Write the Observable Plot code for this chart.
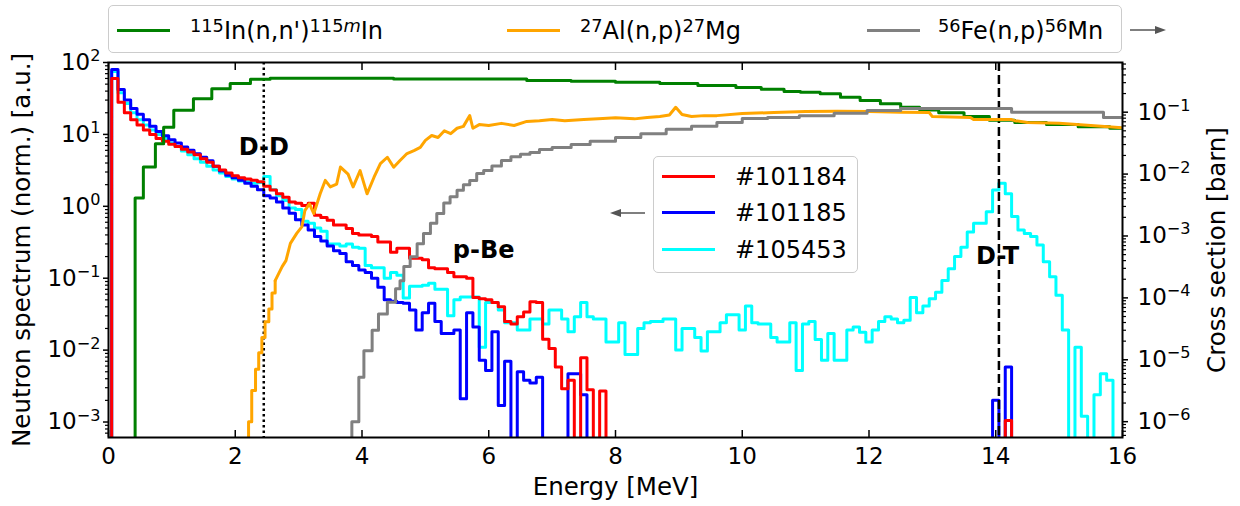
<!DOCTYPE html>
<html>
<head>
<meta charset="utf-8">
<script src="https://cdn.jsdelivr.net/npm/d3@7"></script>
<script src="https://cdn.jsdelivr.net/npm/@observablehq/plot@0.6"></script>
<style>
  body { margin: 0; background: #fff; }
  #wrap { position: relative; width: 1240px; height: 506px; overflow: hidden; font-family: "DejaVu Sans", sans-serif; color: #000; background: #fff; }
  #chart { position: absolute; left: 0; top: 0; }
  #head, #overlay { position: absolute; left: 0; top: 0; width: 0; height: 0; }
  .box { position: absolute; box-sizing: border-box; border: 1.5px solid #cccccc; border-radius: 5px; background: rgba(255,255,255,0.8); }
  .swatch { position: absolute; height: 3px; }
  .entry { position: absolute; font-size: 24px; line-height: 24px; white-space: nowrap; }
  .entry sup { font-size: 0.74em; line-height: 0; vertical-align: baseline; position: relative; top: -0.42em; }
  .arrow { position: absolute; overflow: visible; }
  #chart svg { display: block; }
</style>
</head>
<body>
<div id="wrap">
  <div id="chart"></div>
  <div id="head"></div>
  <div id="overlay"></div>
</div>
<script>
// Neutron spectra: 0.1 MeV bins, values at the bin centres (0.0 ... 16.0 MeV)
const energy = d3.range(0, 161).map(i => i / 10);

const shot101184 = [
  0, 60, 28, 20, 16, 13.5, 11.5, 10, 8.8, 8.0,
  7.3, 6.8, 6.2, 5.7, 5.2, 4.6, 4.1, 3.6, 3.2, 2.9,
  2.65, 2.5, 2.4, 2.3, 2.2, 1.9, 1.68, 1.5, 1.34, 1.15,
  1.1, 1.03, 1.1, 0.75, 0.7, 0.64, 0.55, 0.55, 0.49, 0.42,
  0.4, 0.4, 0.38, 0.32, 0.32, 0.23, 0.26, 0.26, 0.19, 0.19,
  0.18, 0.14, 0.135, 0.135, 0.12, 0.105, 0.105, 0.1, 0.054, 0.052,
  0.05, 0.046, 0.04, 0.025, 0.023, 0.029, 0.034, 0.047, 0.046, 0.0142,
  0.0105, 0.0058, 0.0029, 0.0038, 0, 0.0078, 0.0028, 0, 0.0027, 0,
  0, 0, 0, 0, 0, 0, 0, 0, 0, 0,
  0, 0, 0, 0, 0, 0, 0, 0, 0, 0,
  0, 0, 0, 0, 0, 0, 0, 0, 0, 0,
  0, 0, 0, 0, 0, 0, 0, 0, 0, 0,
  0, 0, 0, 0, 0, 0, 0, 0, 0, 0,
  0, 0, 0, 0, 0, 0, 0, 0, 0, 0,
  0, 0, 0.00105, 0, 0, 0, 0, 0, 0, 0,
  0, 0, 0, 0, 0, 0, 0, 0, 0, 0,
  0
];

const shot101185 = [
  0, 80, 42, 30, 23, 19, 16, 13, 11, 9.6,
  8.4, 7.6, 6.7, 6.0, 5.4, 4.8, 4.3, 3.6, 3.1, 2.7,
  2.5, 2.3, 2.1, 1.9, 1.7, 1.4, 1.3, 1.15, 0.95, 0.8,
  0.65, 0.55, 0.47, 0.38, 0.33, 0.28, 0.24, 0.22, 0.17, 0.15,
  0.13, 0.12, 0.1, 0.075, 0.05, 0.048, 0.046, 0.045, 0.036, 0.019,
  0.033, 0.045, 0.025, 0.017, 0.017, 0.019, 0.0021, 0.033, 0.021, 0.0072,
  0.0052, 0.018, 0.0017, 0.007, 0, 0.005, 0.0038, 0.0035, 0.0042, 0,
  0, 0, 0, 0.0047, 0.0047, 0.0024, 0, 0, 0, 0,
  0, 0, 0, 0, 0, 0, 0, 0, 0, 0,
  0, 0, 0, 0, 0, 0, 0, 0, 0, 0,
  0, 0, 0, 0, 0, 0, 0, 0, 0, 0,
  0, 0, 0, 0, 0, 0, 0, 0, 0, 0,
  0, 0, 0, 0, 0, 0, 0, 0, 0, 0,
  0, 0, 0, 0, 0, 0, 0, 0, 0, 0,
  0.002, 0, 0.0058, 0, 0, 0, 0, 0, 0, 0,
  0, 0, 0, 0, 0, 0, 0, 0, 0, 0,
  0
];

const shot105453 = [
  0, 75, 38, 27, 20, 16, 13.5, 11.5, 10, 8.8,
  7.6, 6.8, 5.9, 5.2, 4.6, 4.1, 3.6, 3.2, 2.9, 2.6,
  2.4, 2.25, 2.2, 2.1, 2.15, 2.6, 1.7, 1.4, 1.2, 0.95,
  0.9, 0.62, 0.58, 0.5, 0.45, 0.3, 0.3, 0.28, 0.3, 0.27,
  0.26, 0.15, 0.14, 0.14, 0.1, 0.12, 0.11, 0.053, 0.077, 0.077,
  0.08, 0.085, 0.07, 0.07, 0.03, 0.05, 0.055, 0.055, 0.055, 0.011,
  0.046, 0.046, 0.036, 0.024, 0.024, 0.019, 0.019, 0.027, 0.027, 0.023,
  0.036, 0.036, 0.027, 0.018, 0.029, 0.046, 0.029, 0.027, 0.027, 0.013,
  0.013, 0.024, 0.0087, 0.0087, 0.020, 0.024, 0.025, 0.025, 0.027, 0.027,
  0.010, 0.020, 0.020, 0.015, 0.0097, 0.018, 0.018, 0.024, 0.031, 0.031,
  0.019, 0.041, 0.024, 0.023, 0.023, 0.015, 0.013, 0.013, 0.024, 0.0052,
  0.023, 0.025, 0.014, 0.0072, 0.017, 0.0072, 0.0072, 0.019, 0.021, 0.0177,
  0.013, 0.019, 0.025, 0.029, 0.027, 0.024, 0.026, 0.054, 0.033, 0.041,
  0.052, 0.064, 0.093, 0.135, 0.2, 0.27, 0.44, 0.58, 0.58, 0.84,
  1.68, 2.1, 1.5, 0.72, 0.47, 0.42, 0.38, 0.29, 0.17, 0.105,
  0.058, 0.019, 0, 0.011, 0.0012, 0, 0.0024, 0.0047, 0.0038, 0,
  0
];

const shotNames = ["#101184", "#101185", "#105453"];
const shotColors = ["#ff0000", "#0000ff", "#00ffff"];

// Activation cross sections [barn] (step edges in MeV)
const inE = [0, 0.42, 0.55, 0.74, 0.87, 1.03, 1.34, 1.63, 1.92, 2.24,
  2.55, 4.5, 6.6, 7.3, 8.0, 8.7, 9.3, 9.9, 10.3, 10.66,
  10.92, 11.23, 11.55, 11.86, 12.18, 12.5, 12.8, 13.1, 13.5, 13.9,
  14.3, 14.8, 15.3, 15.8, 16.0];
const inXs = [0, 0.0041, 0.013, 0.031, 0.057, 0.107, 0.165, 0.24, 0.29, 0.34,
  0.355, 0.345, 0.325, 0.315, 0.305, 0.29, 0.27, 0.25, 0.235, 0.215,
  0.21, 0.198, 0.174, 0.155, 0.137, 0.12, 0.108, 0.098, 0.085, 0.074,
  0.068, 0.063, 0.058, 0.055, 0.055];

const alStepE = [0, 2.21, 2.26, 2.32, 2.37, 2.42, 2.47, 2.53, 2.58, 2.63];
const alStepXs = [0, 1.0e-6, 3.2e-6, 7e-6, 1.3e-5, 2.3e-5, 4.1e-5, 6.6e-5, 1.2e-4, 1.9e-4];
const alE = [2.63, 2.74, 2.8, 2.87, 2.97, 3.05, 3.1, 3.17, 3.24, 3.34,
  3.42, 3.5, 3.6, 3.66, 3.78, 3.86, 3.97, 4.08, 4.19, 4.29,
  4.4, 4.5, 4.6, 4.71, 4.82, 4.92, 5.0, 5.1, 5.2, 5.3,
  5.4, 5.5, 5.6, 5.7, 5.75, 5.85, 6.0, 6.2, 6.4, 6.6,
  6.8, 7.0, 7.2, 7.5, 7.8, 8.0, 8.3, 8.5, 8.7, 8.85,
  8.95, 9.05, 9.2, 9.4, 9.6, 10.0, 10.5, 11.0, 11.5, 12.0,
  12.5, 12.95, 13.0, 13.6, 13.65, 14.25, 14.3, 14.5, 15.0, 15.5,
  16.0];
const alXs = [1.9e-4, 3.2e-4, 4e-4, 7.6e-4, 1.1e-3, 1.4e-3, 2.6e-3, 3.3e-3, 2.3e-3, 4.8e-3,
  7.9e-3, 6.2e-3, 6.9e-3, 0.013, 0.010, 0.0062, 0.0114, 0.0048, 0.0089, 0.0148,
  0.0187, 0.0129, 0.0166, 0.0215, 0.024, 0.027, 0.035, 0.042, 0.039, 0.05,
  0.045, 0.055, 0.059, 0.088, 0.055, 0.063, 0.061, 0.066, 0.061, 0.071,
  0.073, 0.076, 0.073, 0.076, 0.079, 0.081, 0.078, 0.082, 0.085, 0.09,
  0.12, 0.092, 0.085, 0.088, 0.088, 0.095, 0.099, 0.103, 0.104, 0.103,
  0.1, 0.099, 0.085, 0.082, 0.076, 0.076, 0.073, 0.068, 0.066, 0.061,
  0.056];

const feE = [0, 3.84, 3.95, 4.03, 4.16, 4.26, 4.4, 4.53, 4.6, 4.66,
  4.76, 4.87, 4.97, 5.08, 5.18, 5.29, 5.39, 5.5, 5.6, 5.7,
  5.81, 5.92, 6.05, 6.2, 6.35, 6.5, 6.65, 6.8, 7.0, 7.3,
  7.6, 8.0, 8.4, 8.8, 9.2, 9.6, 10.0, 10.4, 10.9, 11.45,
  11.97, 12.5, 14.25, 15.7, 16.0];
const feXs = [0, 1.0e-6, 5.2e-6, 1.4e-5, 3.0e-5, 5.5e-5, 8.5e-5, 1.4e-4, 1.9e-4, 3.2e-4,
  4.6e-4, 7.5e-4, 1.1e-3, 1.6e-3, 2.3e-3, 3.4e-3, 4.3e-3, 5.5e-3, 6.7e-3, 7.9e-3,
  0.0102, 0.0114, 0.0135, 0.0166, 0.019, 0.021, 0.0224, 0.025, 0.027, 0.03,
  0.034, 0.039, 0.045, 0.053, 0.059, 0.068, 0.079, 0.082, 0.088, 0.096,
  0.106, 0.115, 0.1, 0.082, 0.082];

const reactionNames = [
  "<sup>115</sup>In(n,n')<sup>115<i>m</i></sup>In",
  "<sup>27</sup>Al(n,p)<sup>27</sup>Mg",
  "<sup>56</sup>Fe(n,p)<sup>56</sup>Mn"
];
const reactionColors = ["#008000", "#ffa500", "#808080"];

// Axes
const xTicks = [0, 2, 4, 6, 8, 10, 12, 14, 16];
const spectrumTicks = [1e-3, 1e-2, 1e-1, 1, 10, 100];
const crossTicks = [1e-6, 1e-5, 1e-4, 1e-3, 1e-2, 1e-1];
const minorSteps = [2, 3, 4, 5, 6, 7, 8, 9];
const spectrumDomain = [6.09e-4, 100];
const crossDomain = [5.55e-7, 0.635];

// Source lines and their labels
const sourceLines = [2.45, 14.05];
const annotLabels = ["D-D", "p-Be", "D-T"];
const annotE = [2.45, 5.92, 14.03];
const annotV = [6.7, 0.248, 0.202];

// Map cross sections onto the spectrum (left) log scale
const L0 = Math.log10(spectrumDomain[0]), L1 = Math.log10(spectrumDomain[1]);
const C0 = Math.log10(crossDomain[0]), C1 = Math.log10(crossDomain[1]);
const toSpec = c => 10 ** (L0 + (Math.log10(c) - C0) / (C1 - C0) * (L1 - L0));
const below = 1e-5; // empty bins drop below the frame
const spectrumRows = ys => energy.map((e, i) => ({e, v: ys[i] > 0 ? ys[i] : below}));
const crossRows = (es, cs) => es.map((e, i) => ({e, v: cs[i] > 0 ? toSpec(cs[i]) : below}));

const minorTicks = (decades, lo, hi) =>
  decades.flatMap(m => minorSteps.map(k => k * m)).filter(v => v >= lo && v <= hi);
const leftMinor = minorTicks([1e-4, 1e-3, 1e-2, 1e-1, 1, 10], spectrumDomain[0], spectrumDomain[1]);
const rightMinor = minorTicks([1e-7, 1e-6, 1e-5, 1e-4, 1e-3, 1e-2, 1e-1], crossDomain[0], crossDomain[1]);

const fmtPow = v => {
  const p = Math.round(Math.log10(v));
  return "10^" + (p < 0 ? "\u2212" + (-p) : String(p));
};
const blank = () => "";

const shots = [shot101184, shot101185, shot105453];
const lineStyle = {x: "e", y: "v", strokeWidth: 3, strokeLinejoin: "round", clip: true};
const titleStyle = {text: d => d, fontSize: 24.5, fill: "#000", textAnchor: "middle", lineAnchor: "middle"};

const chart = Plot.plot({
  width: 1240,
  height: 506,
  marginTop: 62,
  marginRight: 118,
  marginBottom: 69,
  marginLeft: 108,
  style: {fontFamily: "'DejaVu Sans', sans-serif", fontSize: "23px", color: "#000", background: "transparent", overflow: "visible"},
  x: {domain: [0, 16]},
  y: {type: "log", domain: spectrumDomain},
  marks: [
    // measured spectra (last one on top)
    ...[2, 1, 0].map(i => Plot.line(spectrumRows(shots[i]), {...lineStyle, curve: "step", stroke: shotColors[i]})),
    // D-D and D-T energies
    Plot.ruleX([sourceLines[0]], {stroke: "#000", strokeWidth: 2.5, strokeDasharray: "2.5,3"}),
    Plot.ruleX([sourceLines[1]], {stroke: "#000", strokeWidth: 2.5, strokeDasharray: "9,4"}),
    // cross sections (right axis)
    Plot.line(crossRows(inE, inXs), {...lineStyle, curve: "step-after", stroke: reactionColors[0]}),
    Plot.line(crossRows(alStepE, alStepXs), {...lineStyle, curve: "step-after", stroke: reactionColors[1]}),
    Plot.line(crossRows(alE, alXs), {...lineStyle, curve: "linear", stroke: reactionColors[1]}),
    Plot.line(crossRows(feE, feXs), {...lineStyle, curve: "step-after", stroke: reactionColors[2]}),
    Plot.text(annotLabels, {x: (d, i) => annotE[i], y: (d, i) => annotV[i], text: d => d, fontWeight: "bold", fontSize: 24, fill: "#000"}),
    Plot.frame({stroke: "#000", strokeWidth: 2}),
    // x axis: inward ticks top and bottom, labels below
    Plot.axisX(xTicks, {anchor: "bottom", tickSize: -7, strokeWidth: 1.5, tickFormat: blank, label: null}),
    Plot.axisX(xTicks, {anchor: "top", tickSize: -7, strokeWidth: 1.5, tickFormat: blank, label: null}),
    Plot.axisX(xTicks, {anchor: "bottom", tickSize: 0, tickPadding: 10, tickFormat: d => String(d), label: null}),
    // left axis: spectrum
    Plot.axisY(spectrumTicks, {anchor: "left", tickSize: 5, strokeWidth: 1.5, tickFormat: blank, label: null}),
    Plot.axisY(leftMinor, {anchor: "left", tickSize: 3, strokeWidth: 1.2, tickFormat: blank, label: null}),
    Plot.axisY(spectrumTicks, {anchor: "left", tickSize: 0, tickPadding: 8, tickFormat: fmtPow, label: null}),
    // right axis: cross section
    Plot.axisY(crossTicks.map(toSpec), {anchor: "right", tickSize: 5, strokeWidth: 1.5, tickFormat: blank, label: null}),
    Plot.axisY(rightMinor.map(toSpec), {anchor: "right", tickSize: 3, strokeWidth: 1.2, tickFormat: blank, label: null}),
    Plot.text(crossTicks, {y: d => toSpec(d), frameAnchor: "right", dx: 15, textAnchor: "start", lineAnchor: "middle", text: fmtPow, fontSize: 23, fill: "#000"}),
    // axis titles
    Plot.text(["Energy [MeV]"], {...titleStyle, frameAnchor: "bottom", dy: 50}),
    Plot.text(["Neutron spectrum (norm.) [a.u.]"], {...titleStyle, frameAnchor: "left", rotate: -90, dx: -86}),
    Plot.text(["Cross section [barn]"], {...titleStyle, frameAnchor: "right", rotate: -90, dx: 95})
  ]
});

// powers of ten with a raised exponent
chart.querySelectorAll("text").forEach(t => {
  const m = /^10\^(.+)$/.exec(t.textContent);
  if (!m) return;
  t.textContent = "10";
  const s = document.createElementNS("http://www.w3.org/2000/svg", "tspan");
  s.setAttribute("font-size", "0.7em");
  s.setAttribute("dy", "-0.55em");
  s.textContent = m[1];
  t.appendChild(s);
});
document.getElementById("chart").appendChild(chart);

// reaction legend above the axes
const arrowSvg = (left, top, dir) => {
  const path = dir > 0
    ? `<line x1="2" y1="8" x2="30" y2="8" stroke="#555" stroke-width="1.5"/><path d="M38,8 L27,4 L27,12 Z" fill="#555"/>`
    : `<line x1="10" y1="8" x2="37" y2="8" stroke="#555" stroke-width="1.5"/><path d="M2,8 L13,4 L13,12 Z" fill="#555"/>`;
  return `<svg class="arrow" style="left:${left}px;top:${top}px" width="40" height="16">${path}</svg>`;
};
const reactionSwatchX = [116.7, 506.7, 866.7];
const reactionTextX = [190, 580, 938];
let head = `<div class="box" style="left:108px;top:5px;width:1014px;height:48px"></div>`;
reactionNames.forEach((n, i) => {
  head += `<div class="swatch" style="left:${reactionSwatchX[i]}px;top:28.5px;width:53px;background:${reactionColors[i]}"></div>`;
  head += `<div class="entry" style="left:${reactionTextX[i]}px;top:19px">${n}</div>`;
});
head += arrowSvg(1128, 22, 1);
document.getElementById("head").innerHTML = head;

// shot legend inside the axes
let inner = `<div class="box" style="left:653px;top:156px;width:205px;height:117px"></div>`;
shotNames.forEach((n, i) => {
  const cy = 176 + i * 36.65;
  inner += `<div class="swatch" style="left:661.7px;top:${cy - 1.5}px;width:53px;background:${shotColors[i]}"></div>`;
  inner += `<div class="entry" style="left:735px;top:${cy - 11.5}px">${n}</div>`;
});
inner += arrowSvg(608, 204.7, -1);
document.getElementById("overlay").innerHTML = inner;
</script>
</body>
</html>
